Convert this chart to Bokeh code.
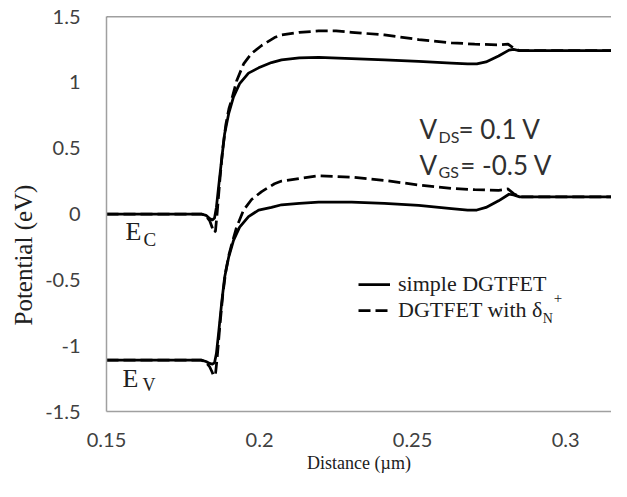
from bokeh.plotting import figure
from bokeh.models import Range1d, FixedTicker, Span, Label, Legend, LegendItem, Title
from bokeh.embed import file_html
from bokeh.resources import INLINE

# ---------------- data ----------------
x_simple = [0.150, 0.178, 0.1810, 0.1825, 0.1837, 0.1846, 0.1853, 0.1859, 0.1866, 0.1876,
            0.1886, 0.1899, 0.1915, 0.1935, 0.1964, 0.1997, 0.2039, 0.2072, 0.2130, 0.2193,
            0.2301, 0.2408, 0.2520, 0.2627, 0.2680, 0.2710, 0.2740, 0.2781, 0.2815, 0.2830,
            0.2850, 0.2900, 0.3206]
ec_simple = [0.0, 0.0, 0.0, -0.01, -0.035, -0.045, -0.03, 0.05, 0.20, 0.41,
             0.61, 0.76, 0.89, 0.99, 1.07, 1.11, 1.15, 1.17, 1.185, 1.19,
             1.18, 1.17, 1.16, 1.145, 1.14, 1.14, 1.155, 1.20, 1.245, 1.25,
             1.24, 1.24, 1.24]
ev_simple = [-1.11, -1.11, -1.11, -1.12, -1.135, -1.14, -1.13, -1.06, -0.91, -0.68,
             -0.48, -0.33, -0.20, -0.10, -0.02, 0.03, 0.05, 0.07, 0.08, 0.09,
             0.09, 0.08, 0.065, 0.04, 0.03, 0.03, 0.05, 0.10, 0.15, 0.145,
             0.13, 0.13, 0.13]

x_delta = [0.150, 0.178, 0.1810, 0.1825, 0.1837, 0.1845, 0.1850, 0.1856, 0.1862, 0.1870,
           0.1880, 0.1890, 0.1900, 0.1908, 0.1925, 0.1948, 0.1974, 0.2007, 0.2049, 0.2072,
           0.2130, 0.2193, 0.2250, 0.2301, 0.2408, 0.2520, 0.2627, 0.2703, 0.2781, 0.2812,
           0.2830, 0.2850, 0.2900, 0.3206]
ec_delta = [0.0, 0.0, 0.0, -0.015, -0.05, -0.10, -0.14, -0.13, 0.02, 0.25,
            0.50, 0.68, 0.80, 0.86, 1.01, 1.14, 1.22, 1.28, 1.34, 1.36,
            1.38, 1.39, 1.39, 1.38, 1.36, 1.325, 1.30, 1.29, 1.285, 1.29,
            1.26, 1.24, 1.24, 1.24]
ev_delta = [-1.11, -1.11, -1.11, -1.125, -1.16, -1.20, -1.23, -1.22, -1.08, -0.86,
            -0.61, -0.43, -0.31, -0.24, -0.10, 0.03, 0.11, 0.17, 0.23, 0.25,
            0.27, 0.29, 0.285, 0.28, 0.255, 0.22, 0.195, 0.185, 0.18, 0.19,
            0.155, 0.13, 0.13, 0.13]

x_ticks = [0.15, 0.2, 0.25, 0.3]
x_tick_labels = ["0.15", "0.2", "0.25", "0.3"]
y_ticks = [-1.5, -1.0, -0.5, 0.0, 0.5, 1.0, 1.5]
y_tick_labels = ["-1.5", "-1", "-0.5", "0", "0.5", "1", "1.5"]

legend_labels = ["simple DGTFET", "DGTFET with \u03b4"]

# ---------------- figure ----------------
SANS = "Lato"
SERIF = "Liberation Serif"

p = figure(width=611, height=481, output_backend="svg", toolbar_location=None,
           title=None,
           x_range=Range1d(0.15, 0.315), y_range=Range1d(-1.5, 1.5),
           min_border_left=106, min_border_right=0, min_border_top=16, min_border_bottom=70)
p.outline_line_color = None
p.xgrid.visible = False
p.ygrid.visible = False
p.background_fill_color = "white"
p.border_fill_color = "white"

for ax in (p.xaxis[0], p.yaxis[0]):
    ax.axis_line_color = "#a0a0a0"
    ax.axis_line_width = 1.5
    ax.major_tick_line_color = None
    ax.minor_tick_line_color = None
    ax.major_tick_out = 0
    ax.major_tick_in = 0
    ax.major_label_text_font = SANS
    ax.major_label_text_font_size = "20px"
    ax.major_label_text_color = "#404040"

p.xaxis.ticker = FixedTicker(ticks=x_ticks)
p.xaxis.major_label_overrides = dict(zip(x_ticks, x_tick_labels))
p.xaxis.major_label_standoff = 21
p.xaxis.axis_label = "Distance (\u00b5m)"
p.xaxis.axis_label_text_font = SERIF
p.xaxis.axis_label_text_font_style = "normal"
p.xaxis.axis_label_text_font_size = "18px"
p.xaxis.axis_label_text_color = "#202020"
p.xaxis.axis_label_standoff = 3

p.yaxis.ticker = FixedTicker(ticks=y_ticks)
p.yaxis.major_label_overrides = dict(zip(y_ticks, y_tick_labels))
p.yaxis.major_label_standoff = 26

# y axis title, placed lower than centre as in the reference
p.add_layout(Title(text="Potential (eV)", align="left", offset=86, standoff=11,
                   text_font=SERIF, text_font_size="25px", text_font_style="normal",
                   text_color="#202020"), "left")

# top border line at 1.5
p.add_layout(Span(location=1.5, dimension="width", line_color="#404040", line_width=1.5))

# curves
r1 = p.line(x_simple, ec_simple, line_color="black", line_width=2.75, line_join="round")
p.line(x_simple, ev_simple, line_color="black", line_width=2.75, line_join="round")
r2 = p.line(x_delta, ec_delta, line_color="black", line_width=2.75, line_dash="12 5", line_join="round")
p.line(x_delta, ev_delta, line_color="black", line_width=2.75, line_dash="12 5", line_join="round")

legend = Legend(items=[LegendItem(label=legend_labels[0], renderers=[r1]),
                       LegendItem(label=legend_labels[1], renderers=[r2])],
                location=(252, 88), padding=0, margin=0, spacing=0,
                glyph_width=32, glyph_height=22, label_height=22, label_standoff=8,
                label_text_font=SERIF, label_text_font_size="22px", label_text_color="#202020",
                border_line_color=None, background_fill_alpha=0)
p.add_layout(legend)


def lab(x, y, text, font, size, color="#202020"):
    p.add_layout(Label(x=x, y=y, text=text, text_font=font, text_font_size=size,
                       text_color=color, text_baseline="alphabetic"))


# legend sub/superscripts
lab(0.2925, -0.79, "N", SERIF, "14px")
lab(0.2961, -0.64, "+", SERIF, "15px")

# band labels
lab(0.1562, -0.136, "E", SERIF, "26px")
lab(0.1621, -0.197, "C", SERIF, "19px")
lab(0.1552, -1.253, "E", SERIF, "26px")
lab(0.1618, -1.298, "V", SERIF, "18px")

# bias annotation
lab(0.2523, 0.646, "V", SANS, "26px", "#303030")
lab(0.2585, 0.585, "DS", SANS, "16px", "#303030")
lab(0.2650, 0.646, "= 0.1 V", SANS, "26px", "#303030")
lab(0.2523, 0.373, "V", SANS, "26px", "#303030")
lab(0.2585, 0.319, "GS", SANS, "16px", "#303030")
lab(0.2656, 0.373, "= -0.5 V", SANS, "26px", "#303030")

open("out.html", "w").write(file_html(p, INLINE))
